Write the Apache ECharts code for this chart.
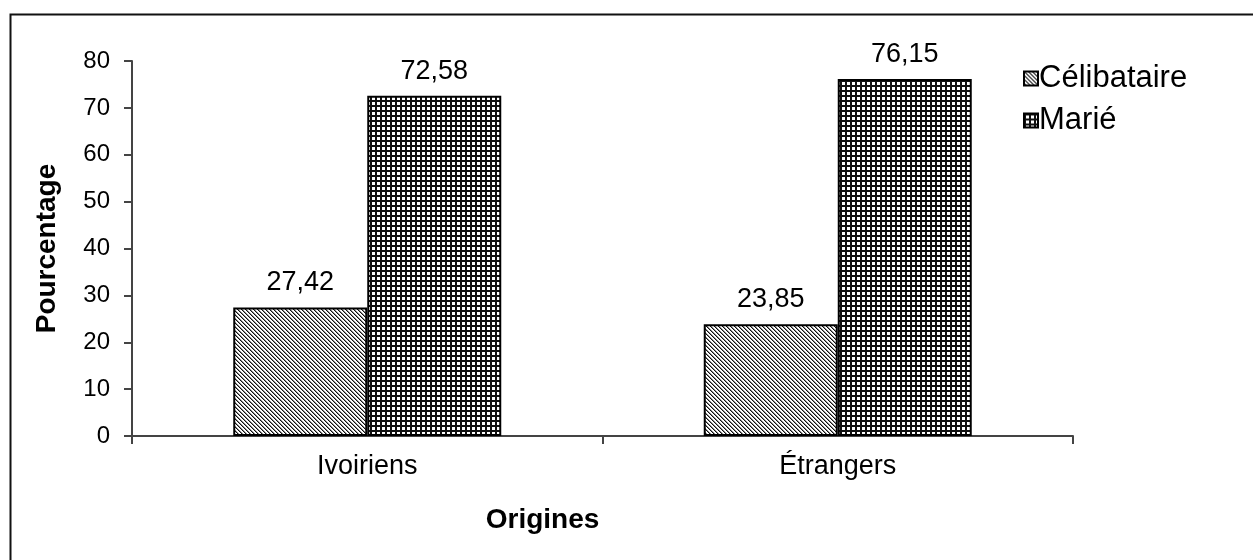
<!DOCTYPE html>
<html>
<head>
<meta charset="utf-8">
<script src="https://cdn.jsdelivr.net/npm/echarts@6/dist/echarts.min.js"></script>
<style>
html,body{margin:0;padding:0;background:#fff;}
#chart{width:1253px;height:560px;}
</style>
</head>
<body>
<div id="chart"></div>
<script>
const categories = ['Ivoiriens', 'Étrangers'];
const seriesNames = ['Célibataire', 'Marié'];
const celibataire = [27.42, 23.85];
const marie = [72.58, 76.15];
const yTicks = [0, 10, 20, 30, 40, 50, 60, 70, 80];

function diagPattern() {
  const c = document.createElement('canvas');
  c.width = 4; c.height = 4;
  const ctx = c.getContext('2d');
  ctx.fillStyle = '#fff'; ctx.fillRect(0, 0, 4, 4);
  for (let i = 0; i < 4; i++) {
    ctx.fillStyle = '#111';
    ctx.fillRect(i, i, 1, 1);
    ctx.fillStyle = '#8a8a8a';
    ctx.fillRect((i + 1) % 4, i, 1, 1);
  }
  return c;
}
function gridPattern() {
  const c = document.createElement('canvas');
  c.width = 5; c.height = 5;
  const ctx = c.getContext('2d');
  ctx.fillStyle = '#fff'; ctx.fillRect(0, 0, 5, 5);
  ctx.fillStyle = '#111';
  ctx.fillRect(0, 0, 2, 5);
  ctx.fillRect(0, 0, 5, 2);
  return c;
}
const font = 'Liberation Sans, Arial, sans-serif';
const fmt = p => String(p.value).replace('.', ',');

const chart = echarts.init(document.getElementById('chart'), null, {renderer: 'canvas'});
chart.setOption({
  animation: false,
  backgroundColor: '#fff',
  textStyle: {fontFamily: font, color: '#000'},
  graphic: [{
    type: 'rect', left: 8, top: 12, shape: {width: 1300, height: 600},
    style: {fill: 'none', stroke: '#111', lineWidth: 2}, silent: true
  }],
  grid: {left: 132, right: 180, top: 61, bottom: 124},
  legend: {
    orient: 'vertical', left: 1018, top: 58, itemGap: 11,
    itemWidth: 14, itemHeight: 14, icon: 'rect',
    textStyle: {fontSize: 31, fontFamily: font, color: '#000', padding: [0, 0, 0, -4]},
    data: seriesNames
  },
  xAxis: {
    type: 'category', data: categories,
    name: 'Origines', nameLocation: 'middle', nameGap: 70,
    nameTextStyle: {fontSize: 28, fontWeight: 'bold', fontFamily: font, color: '#000', padding: [0, 120, 0, 0]},
    axisLine: {lineStyle: {color: '#444', width: 2}},
    axisTick: {show: true, length: 8, lineStyle: {color: '#444', width: 2}},
    axisLabel: {fontSize: 27, margin: 17, color: '#000', fontFamily: font}
  },
  yAxis: {
    type: 'value', min: 0, max: 80, interval: 10,
    name: 'Pourcentage', nameLocation: 'middle', nameGap: 71, nameRotate: 90,
    nameTextStyle: {fontSize: 28, fontWeight: 'bold', fontFamily: font, color: '#000'},
    axisLine: {show: true, lineStyle: {color: '#444', width: 2}},
    axisTick: {show: true, length: 8, lineStyle: {color: '#444', width: 2}},
    splitLine: {show: false},
    axisLabel: {fontSize: 24, margin: 22, color: '#000', fontFamily: font,
      formatter: v => yTicks.includes(v) ? String(v) : ''}
  },
  series: [
    {
      name: seriesNames[0], type: 'bar', data: celibataire,
      barWidth: 134, barGap: '0%',
      itemStyle: {color: {image: diagPattern(), repeat: 'repeat'}, borderColor: '#000', borderWidth: 2},
      label: {show: true, position: 'top', distance: 11, fontSize: 27, color: '#000', fontFamily: font, formatter: fmt}
    },
    {
      name: seriesNames[1], type: 'bar', data: marie,
      barWidth: 134, barGap: '0%',
      itemStyle: {color: {image: gridPattern(), repeat: 'repeat'}, borderColor: '#000', borderWidth: 2},
      label: {show: true, position: 'top', distance: 11, fontSize: 27, color: '#000', fontFamily: font, formatter: fmt}
    }
  ]
});
</script>
</body>
</html>
